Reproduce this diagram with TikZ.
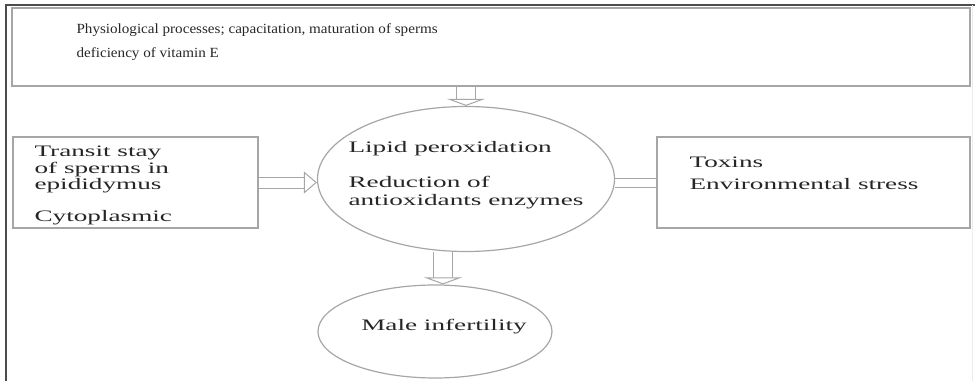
\documentclass[tikz,border=0pt]{standalone}
\usepackage{fontspec}
\newfontfamily\boxfont{Liberation Serif}[FakeStretch=1.7]
\newfontfamily\topfont{Liberation Serif}[FakeStretch=1.08]
\usetikzlibrary{arrows.meta,shapes.geometric}
\tikzstyle{box} = [draw=gray!70, line width=1.3pt, rectangle, inner sep=0pt]
\tikzstyle{bubble} = [draw=gray!70, line width=1.2pt, ellipse, inner sep=0pt]
\tikzstyle{note} = [inner sep=0pt, align=left, text=black!85,
    font=\boxfont\fontsize{16}{16.2}\selectfont]
\tikzstyle{hollow} = [draw=gray!70, line width=1pt, double, double distance=18pt,
    -{Triangle[open, length=7pt, width=38pt]}]
\tikzstyle{slim} = [hollow, double distance=10pt,
    -{Triangle[open, length=13pt, width=22pt]}]
\tikzstyle{twin} = [draw=gray!70, line width=1pt, double, double distance=8pt]

\begin{document}
\begin{tikzpicture}[x=1pt,y=1pt]
    \useasboundingbox (0,0) rectangle (975,381);
    % frame
    \draw [black!70, line width=1.5pt] (6,0) -- (6,376) -- (975,376);
    \draw [gray!15] (972,0) -- (972,376);
    \node [bubble, minimum width=297pt, minimum height=145pt,
        label={[note, yshift=4pt, font=\boxfont\fontsize{16}{17.7}\selectfont]center:Lipid peroxidation\\[17.3pt]Reduction of\\antioxidants enzymes}]
        (lipid) at (466,202) {};
    \node [box, above of=lipid, node distance=132pt, xshift=25pt,
        minimum width=958pt, minimum height=78pt,
        label={[note, anchor=north west, xshift=65pt, yshift=-16pt, font=\topfont\fontsize{14}{24}\selectfont]north west:Physiological processes; capacitation, maturation of sperms\\deficiency of vitamin E}]
        (physio) {};
    \node [box, left of=lipid, node distance=330.5pt, yshift=-3.5pt,
        minimum width=245pt, minimum height=91pt,
        label={[note, anchor=north west, xshift=22pt, yshift=-9.7pt]north west:Transit stay\\of sperms in\\epididymus\\[16.2pt]Cytoplasmic}]
        (transit) {};
    \node [box, right of=lipid, node distance=347.5pt, yshift=-3.5pt,
        minimum width=313pt, minimum height=91pt,
        label={[note, anchor=north west, xshift=33pt, yshift=-20pt, font=\boxfont\fontsize{16}{22}\selectfont]north west:Toxins\\Environmental stress}]
        (toxins) {};
    \node [bubble, below of=lipid, node distance=152.5pt, xshift=-31pt,
        minimum width=234pt, minimum height=93pt,
        label={[note, xshift=9pt, yshift=5pt]center:Male infertility}]
        (infert) {};
    \coordinate (drop) at ([xshift=8pt]infert.north);
    \draw [hollow] (physio.south -| lipid.north) -- (lipid.north);
    \draw [slim] (transit.east) -- (transit.east -| lipid.west);
    \draw [twin] (toxins.west) -- (toxins.west -| lipid.east);
    \draw [hollow] (drop |- lipid.south) -- (drop);
\end{tikzpicture}
\end{document}
